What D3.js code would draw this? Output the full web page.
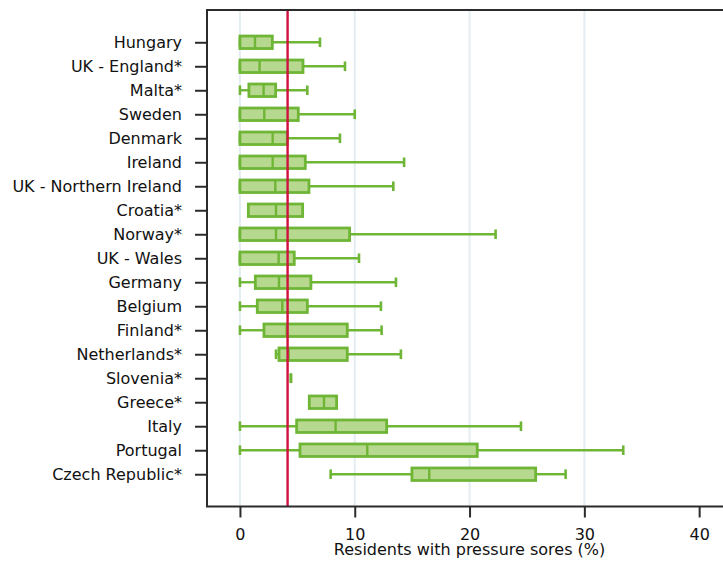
<!DOCTYPE html>
<html>
<head>
<meta charset="utf-8">
<script src="https://cdn.jsdelivr.net/npm/d3@7"></script>
<style>
  body { margin: 0; background: #fff; }
  svg { display: block; font-family: 'DejaVu Sans', Verdana, sans-serif; }
</style>
</head>
<body>
<svg id="chart" width="723" height="561"></svg>
<script>
const countries = ['Hungary', 'UK - England*', 'Malta*', 'Sweden', 'Denmark', 'Ireland',
  'UK - Northern Ireland', 'Croatia*', 'Norway*', 'UK - Wales', 'Germany', 'Belgium',
  'Finland*', 'Netherlands*', 'Slovenia*', 'Greece*', 'Italy', 'Portugal', 'Czech Republic*']
const lowWhisker  = [0, 0, 0, 0, 0, 0, 0, 0.73, 0, 0, 0, 0, 0, 3.14, 4.44, 6.04, 0, 0, 7.9]
const q1          = [0, 0, 0.78, 0, 0, 0, 0, 0.73, 0, 0, 1.34, 1.51, 2.09, 3.4, 4.44, 6.04, 4.94, 5.23, 14.98]
const medians     = [1.31, 1.71, 2.06, 2.12, 2.85, 2.85, 3.08, 3.14, 3.14, 3.37, 3.4, 3.69, 4.07, 4.24, 4.44, 7.32, 8.33, 11.09, 16.49]
const q3          = [2.82, 5.49, 3.11, 5.08, 4.12, 5.69, 6.01, 5.46, 9.55, 4.73, 6.18, 5.87, 9.35, 9.35, 4.44, 8.42, 12.78, 20.67, 25.76]
const highWhisker = [6.97, 9.15, 5.87, 10.0, 8.71, 14.3, 13.36, 5.46, 22.27, 10.37, 13.59, 12.28, 12.34, 14.02, 4.44, 8.42, 24.48, 33.39, 28.37]
const xTicks = [0, 10, 20, 30, 40]
const gridTicks = [0, 10, 20, 30]
const referenceValue = 4.15
const xTitle = 'Residents with pressure sores (%)'

const rows = countries.map((c, i) => ({
  country: c, lo: lowWhisker[i], q1: q1[i], med: medians[i], q3: q3[i], hi: highWhisker[i]
}))

const svg = d3.select('#chart')
const plotTop = 10, plotBottom = 506.5, plotLeft = 207

const x = d3.scaleLinear().domain([-2.87, 42.6]).range([plotLeft, 729])
const y = d3.scalePoint().domain(countries).range([plotTop, plotBottom]).padding(1.345)

const green = '#6fb536', fill = '#b7d98f'

// grid
svg.append('g')
  .selectAll('line')
  .data(gridTicks)
  .join('line')
    .attr('x1', d => x(d)).attr('x2', d => x(d))
    .attr('y1', plotTop).attr('y2', plotBottom)
    .attr('stroke', '#e4edf1')
    .attr('stroke-width', 2)

// boxes
const boxH = 12.5, capH = 9.6
const g = svg.append('g')
  .selectAll('g')
  .data(rows)
  .join('g')
    .attr('transform', d => 'translate(0,' + y(d.country) + ')')

g.append('line')
  .attr('x1', d => x(d.lo)).attr('x2', d => x(d.q1))
  .attr('stroke', green).attr('stroke-width', 2.4)
g.append('line')
  .attr('x1', d => x(d.q3)).attr('x2', d => x(d.hi))
  .attr('stroke', green).attr('stroke-width', 2.4)
g.append('line')
  .attr('x1', d => x(d.lo)).attr('x2', d => x(d.lo))
  .attr('y1', -capH / 2).attr('y2', capH / 2)
  .attr('stroke', green).attr('stroke-width', 2.6)
g.append('line')
  .attr('x1', d => x(d.hi)).attr('x2', d => x(d.hi))
  .attr('y1', -capH / 2).attr('y2', capH / 2)
  .attr('stroke', green).attr('stroke-width', 2.6)
g.filter(d => d.q3 > d.q1).append('rect')
  .attr('x', d => x(d.q1))
  .attr('y', -boxH / 2)
  .attr('width', d => x(d.q3) - x(d.q1))
  .attr('height', boxH)
  .attr('fill', fill)
  .attr('stroke', green)
  .attr('stroke-width', 2.8)
g.filter(d => d.q3 > d.q1).append('line')
  .attr('x1', d => x(d.med)).attr('x2', d => x(d.med))
  .attr('y1', -boxH / 2).attr('y2', boxH / 2)
  .attr('stroke', green).attr('stroke-width', 2.4)

// reference line
svg.append('line')
  .attr('x1', x(referenceValue)).attr('x2', x(referenceValue))
  .attr('y1', plotTop).attr('y2', plotBottom)
  .attr('stroke', '#cf1140')
  .attr('stroke-width', 2.4)

// frame
svg.append('path')
  .attr('d', d3.line()([[730, plotTop], [plotLeft, plotTop], [plotLeft, plotBottom], [730, plotBottom]]))
  .attr('fill', 'none')
  .attr('stroke', '#2b2b2b')
  .attr('stroke-width', 2)

// axes
const xAxis = svg.append('g')
  .attr('transform', 'translate(0,' + plotBottom + ')')
  .call(d3.axisBottom(x).tickValues(xTicks).tickSize(11).tickPadding(11))
xAxis.select('.domain').remove()

const yAxis = svg.append('g')
  .attr('transform', 'translate(' + plotLeft + ',0)')
  .call(d3.axisLeft(y).tickSize(12).tickPadding(13))
yAxis.select('.domain').remove()

svg.selectAll('.tick line').attr('stroke', '#2b2b2b').attr('stroke-width', 2)
svg.selectAll('.tick text').attr('fill', '#111').style('font-size', '16px')
  .style('font-family', "'DejaVu Sans', Verdana, sans-serif")

svg.append('text')
  .attr('x', x(20))
  .attr('y', 555)
  .attr('text-anchor', 'middle')
  .attr('fill', '#111')
  .style('font-size', '16px')
  .text(xTitle)
</script>
</body>
</html>
